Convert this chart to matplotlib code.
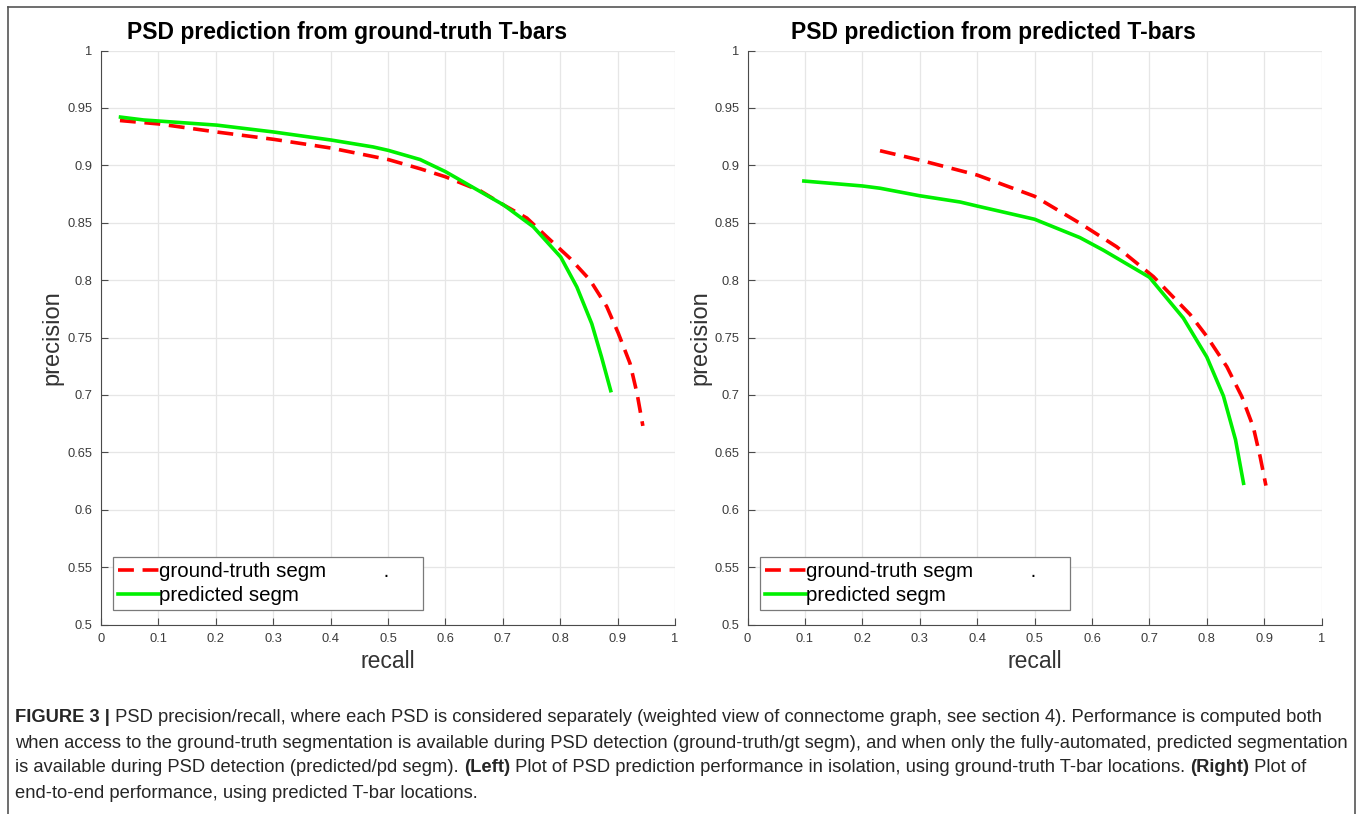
import matplotlib
matplotlib.use("Agg")
import matplotlib.pyplot as plt
from matplotlib.lines import Line2D

plt.rcParams['font.family'] = ['Liberation Sans', 'DejaVu Sans']

# left panel: ground-truth T-bars
left_gt_recall = [0.033, 0.101, 0.2015, 0.301, 0.401, 0.5005, 0.556, 0.600, 0.660, 0.7016,
                  0.742, 0.776, 0.817, 0.852, 0.881, 0.901, 0.9216, 0.934, 0.944]
left_gt_prec = [0.939, 0.936, 0.929, 0.9226, 0.915, 0.905, 0.897, 0.890, 0.878, 0.8654,
                0.854, 0.838, 0.819, 0.800, 0.777, 0.754, 0.7275, 0.701, 0.673]
left_pd_recall = [0.034, 0.074, 0.2015, 0.301, 0.401, 0.474, 0.5005, 0.556, 0.600, 0.7016,
                  0.753, 0.801, 0.829, 0.855, 0.872, 0.888]
left_pd_prec = [0.942, 0.9395, 0.935, 0.929, 0.922, 0.916, 0.913, 0.905, 0.8945, 0.8654,
                0.8465, 0.820, 0.794, 0.762, 0.733, 0.7037]

# right panel: predicted T-bars
right_gt_recall = [0.2307, 0.2995, 0.400, 0.500, 0.579, 0.643, 0.707, 0.771, 0.800, 0.835,
                   0.861, 0.881, 0.893, 0.903]
right_gt_prec = [0.9127, 0.9046, 0.8915, 0.873, 0.8495, 0.829, 0.803, 0.770, 0.751, 0.7245,
                 0.6985, 0.672, 0.646, 0.621]
right_pd_recall = [0.098, 0.200, 0.231, 0.2995, 0.3705, 0.400, 0.500, 0.579, 0.620, 0.700,
                   0.759, 0.800, 0.829, 0.850, 0.864]
right_pd_prec = [0.8863, 0.882, 0.880, 0.8735, 0.868, 0.8645, 0.853, 0.837, 0.826, 0.8025,
                 0.767, 0.733, 0.699, 0.661, 0.623]

titles = ['PSD prediction from ground-truth T-bars', 'PSD prediction from predicted T-bars']
legend_labels = ['ground-truth segm          .     ', 'predicted segm']
x_ticks = [0, 0.1, 0.2, 0.3, 0.4, 0.5, 0.6, 0.7, 0.8, 0.9, 1]
x_tick_labels = ['0', '0.1', '0.2', '0.3', '0.4', '0.5', '0.6', '0.7', '0.8', '0.9', '1']
y_ticks = [0.5, 0.55, 0.6, 0.65, 0.7, 0.75, 0.8, 0.85, 0.9, 0.95, 1]
y_tick_labels = ['0.5', '0.55', '0.6', '0.65', '0.7', '0.75', '0.8', '0.85', '0.9', '0.95', '1']

caption_lines = [
    [("FIGURE 3 |", True), (" PSD precision/recall, where each PSD is considered separately (weighted view of connectome graph, see section 4). Performance is computed both", False)],
    [("when access to the ground-truth segmentation is available during PSD detection (ground-truth/gt segm), and when only the fully-automated, predicted segmentation", False)],
    [("is available during PSD detection (predicted/pd segm). ", False), ("(Left)", True),
     (" Plot of PSD prediction performance in isolation, using ground-truth T-bar locations. ", False),
     ("(Right)", True), (" Plot of", False)],
    [("end-to-end performance, using predicted T-bar locations.", False)],
]

W, H = 1362, 814
fig = plt.figure(figsize=(W / 100, H / 100), dpi=100)

axes_left_px = [101, 747.6]
ax_w = 574
ax_top, ax_bot = 50.5, 624.5
ax_h = ax_bot - ax_top

panels = [
    (left_gt_recall, left_gt_prec, left_pd_recall, left_pd_prec),
    (right_gt_recall, right_gt_prec, right_pd_recall, right_pd_prec),
]

axis_col = '#4a4a4a'
for i, (gr, gp, pr, pp) in enumerate(panels):
    x0 = axes_left_px[i]
    ax = fig.add_axes([x0 / W, 1 - ax_bot / H, ax_w / W, ax_h / H])
    ax.plot(gr, gp, color='#ff0000', lw=2.6, dashes=(4.4, 2.4), label=legend_labels[0],
            dash_capstyle='butt')
    ax.plot(pr, pp, color='#00f000', lw=2.6, label=legend_labels[1])
    ax.set_xlim(0, 1)
    ax.set_ylim(0.5, 1)
    ax.set_xticks(x_ticks)
    ax.set_xticklabels(x_tick_labels)
    ax.set_yticks(y_ticks)
    ax.set_yticklabels(y_tick_labels)
    ax.grid(True, color='#e6e6e6', lw=0.9)
    ax.set_axisbelow(True)
    for s in ['top', 'right']:
        ax.spines[s].set_visible(False)
    for s in ['left', 'bottom']:
        ax.spines[s].set_color(axis_col)
        ax.spines[s].set_linewidth(0.8)
    ax.tick_params(direction='in', length=5, width=0.8, color=axis_col,
                   labelcolor='#3c3c3c', labelsize=9.3, pad=6)
    ax.set_xlabel('recall', fontsize=16.5, color='#333333', va='center')
    ax.set_ylabel('precision', fontsize=17, color='#333333', va='center')
    ax.xaxis.set_label_coords(0.5, -(661 - ax_bot) / ax_h)
    ax.yaxis.set_label_coords(-(x0 - (52 + 648 * i)) / ax_w, 0.5)
    leg = ax.legend(loc='lower left', bbox_to_anchor=(0.021, 0.025), fontsize=14.8,
                    handlelength=2.0, handletextpad=0.0, borderpad=0.25,
                    labelspacing=0.22, fancybox=False, framealpha=1, borderaxespad=0)
    leg.get_frame().set_edgecolor('#7a7a7a')
    leg.get_frame().set_linewidth(0.9)
    cx = x0 + ax_w / 2 - 41
    fig.text(cx / W, 1 - 33 / H, titles[i], ha='center', va='center',
             fontsize=16.5, fontweight='bold', color='black')

# outer frame
frame_col = '#555555'
fig.add_artist(Line2D([8 / W, 8 / W], [0, 1 - 7 / H], color=frame_col, lw=1.2))
fig.add_artist(Line2D([1355 / W, 1355 / W], [0, 1 - 7 / H], color=frame_col, lw=1.2))
fig.add_artist(Line2D([8 / W, 1355 / W], [1 - 7 / H, 1 - 7 / H], color=frame_col, lw=1.2))

# caption with mixed bold / regular runs
fig.canvas.draw()
renderer = fig.canvas.get_renderer()
line_y = [717, 743, 768, 794]
for ly, parts in zip(line_y, caption_lines):
    x = 15
    for txt, bold in parts:
        t = fig.text(x / W, 1 - ly / H, txt, ha='left', va='center', fontsize=13.2,
                     fontweight='bold' if bold else 'normal', color='#262626')
        bb = t.get_window_extent(renderer=renderer)
        x += bb.width

fig.savefig('out.png', dpi=100)
